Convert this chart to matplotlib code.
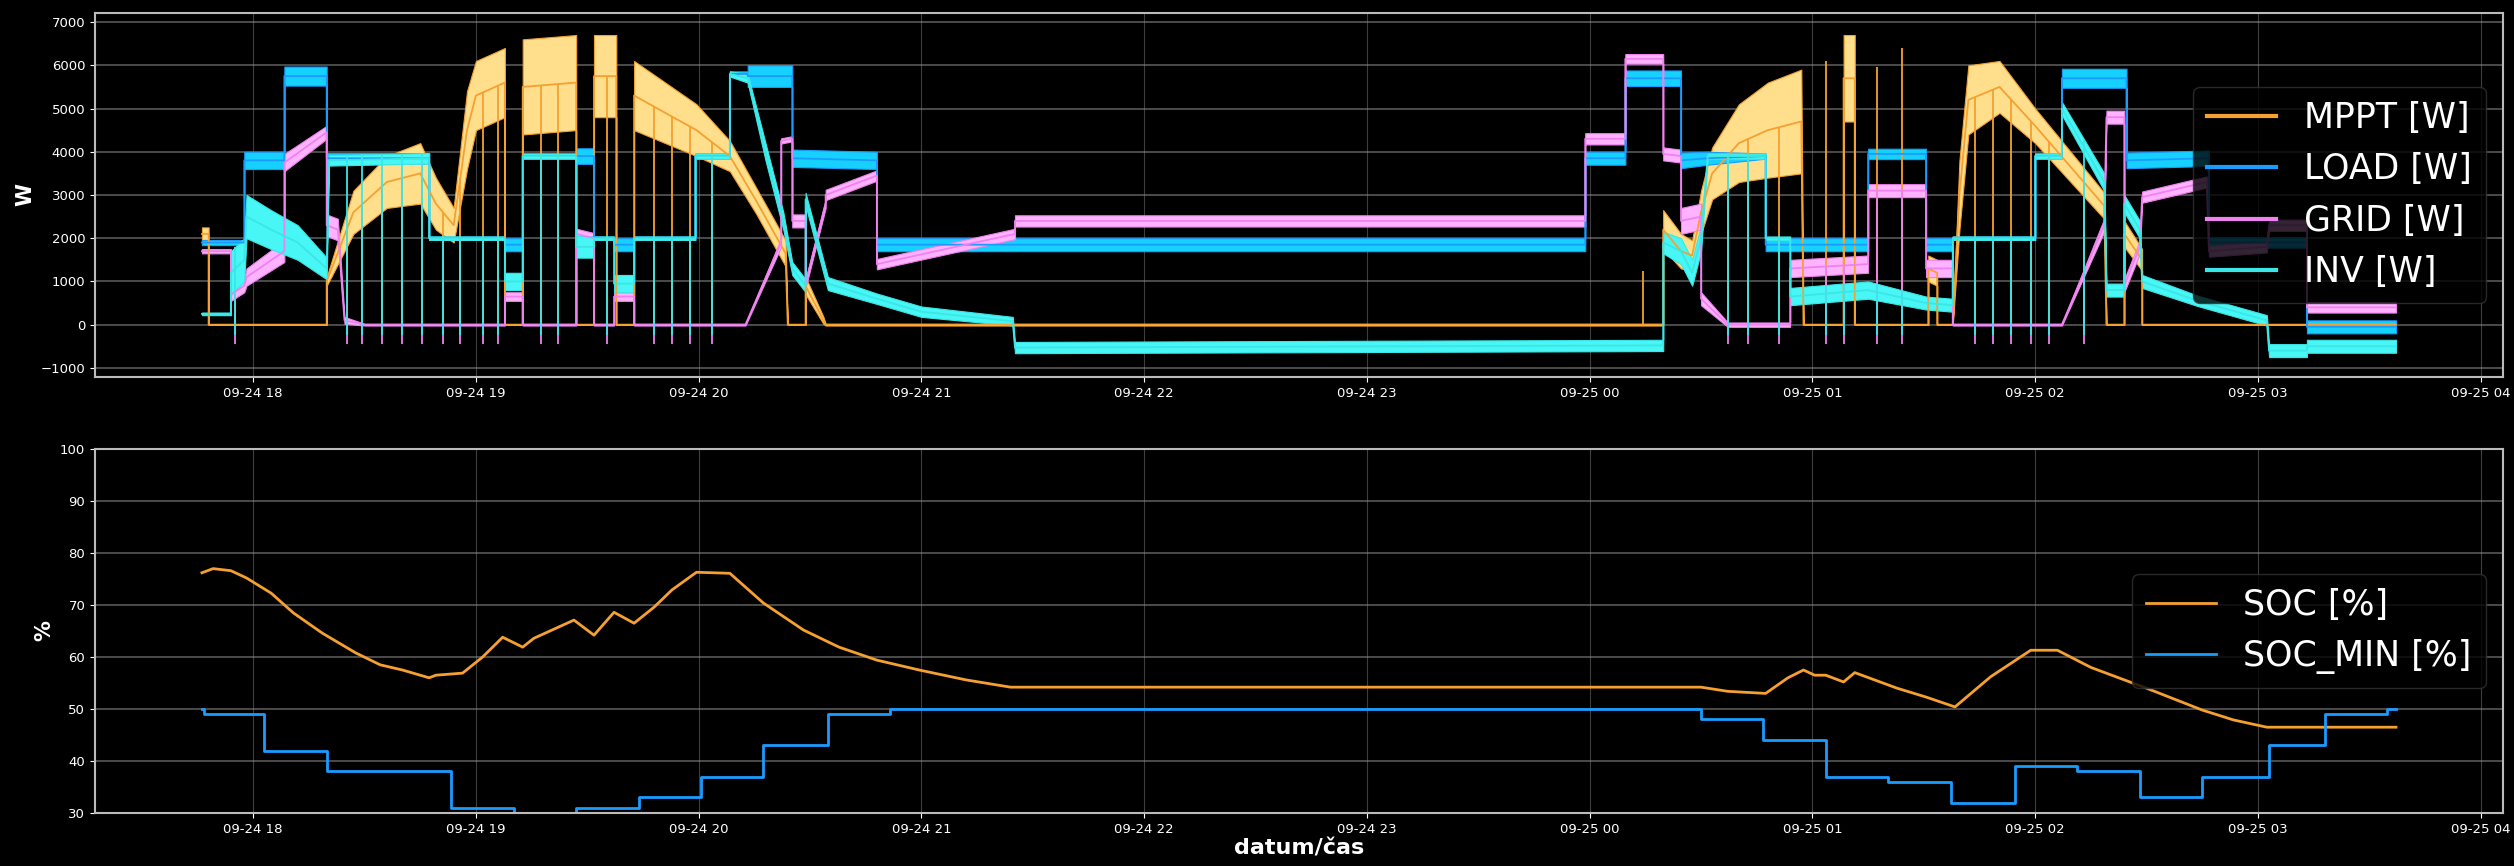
import numpy as np
import pandas as pd
import matplotlib
matplotlib.use("Agg")
import matplotlib.pyplot as plt
import matplotlib.dates as mdates
from matplotlib.lines import Line2D

# time in hours since 2023-09-24 00:00, (time, value, noise half-width)
MPPT = [(17.77, 2100, 150), (17.80, 2100, 150), (17.80, 0, 0), (18.33, 0, 0), (18.33, 1000, 100),
        (18.45, 2600, 500), (18.60, 3300, 600), (18.75, 3500, 700), (18.82, 2800, 600), (18.90, 2300, 400),
        (18.96, 4500, 900), (19.00, 5300, 800), (19.13, 5600, 800), (19.13, 0, 0), (19.21, 0, 0),
        (19.21, 5500, 1100), (19.45, 5600, 1100), (19.45, 0, 0), (19.53, 0, 0), (19.53, 5750, 950),
        (19.63, 5750, 950), (19.63, 0, 0), (19.71, 0, 0), (19.71, 5300, 800), (19.85, 4900, 700),
        (19.99, 4500, 600), (20.14, 3900, 350), (20.26, 2850, 300), (20.39, 1650, 300), (20.40, 0, 0),
        (20.48, 0, 0), (20.48, 900, 200), (20.56, 100, 80), (20.57, 0, 20), (24.33, 0, 20),
        (24.33, 2200, 450), (24.41, 1700, 400), (24.46, 1600, 350), (24.50, 2600, 500), (24.55, 3500, 600),
        (24.67, 4200, 900), (24.80, 4500, 1100), (24.95, 4700, 1200), (24.96, 0, 0), (25.14, 0, 0),
        (25.14, 5700, 1000), (25.19, 5700, 1000), (25.19, 0, 0), (25.52, 0, 0), (25.52, 1300, 300),
        (25.56, 1200, 300), (25.56, 0, 0), (25.63, 0, 0), (25.66, 3000, 800), (25.70, 5200, 800),
        (25.84, 5500, 600), (26.00, 4600, 400), (26.31, 2750, 300), (26.32, 0, 0), (26.40, 0, 0),
        (26.40, 2100, 300), (26.48, 1500, 250), (26.48, 0, 0), (27.62, 0, 0)]

LOAD = [(17.77, 1900, 60), (17.96, 1900, 60), (17.96, 3800, 200), (18.14, 3800, 200), (18.14, 5750, 220),
        (18.33, 5750, 220), (18.33, 3850, 120), (18.79, 3850, 120), (18.79, 2000, 40), (19.13, 2000, 40),
        (19.13, 1850, 150), (19.21, 1850, 150), (19.21, 3900, 60), (19.45, 3900, 60), (19.45, 3900, 180),
        (19.53, 3900, 180), (19.53, 2000, 40), (19.62, 2000, 40), (19.62, 1850, 150), (19.71, 1850, 150),
        (19.71, 2000, 40), (19.985, 2000, 40), (19.985, 3900, 60), (20.14, 3900, 60), (20.14, 5800, 60),
        (20.22, 5800, 60), (20.22, 5750, 250), (20.42, 5750, 250), (20.42, 3850, 200), (20.80, 3800, 200),
        (20.80, 1850, 150), (23.98, 1850, 150), (23.98, 3850, 150), (24.16, 3850, 150), (24.16, 5700, 180),
        (24.41, 5700, 180), (24.41, 3800, 180), (24.53, 3850, 150), (24.79, 3900, 60), (24.79, 1850, 150),
        (25.25, 1850, 150), (25.25, 3950, 120), (25.51, 3950, 120), (25.51, 1850, 150), (25.63, 1850, 150),
        (25.63, 2000, 40), (26.00, 2000, 40), (26.00, 3900, 60), (26.12, 3900, 60), (26.12, 5700, 220),
        (26.41, 5700, 220), (26.41, 3800, 180), (26.78, 3850, 180), (26.78, 1900, 120), (27.22, 1900, 120),
        (27.22, -50, 150), (27.62, -50, 150)]

GRID = [(17.77, 1700, 50), (17.90, 1700, 50), (17.90, 700, 150), (17.96, 900, 150), (17.97, 1100, 200),
        (18.14, 1700, 250), (18.14, 3750, 200), (18.33, 4450, 150), (18.33, 2300, 250), (18.38, 2200, 250),
        (18.41, 100, 80), (18.50, 0, 20), (19.13, 0, 20), (19.13, 650, 100), (19.21, 650, 100),
        (19.21, 0, 20), (19.45, 0, 20), (19.45, 2100, 120), (19.53, 2000, 120), (19.53, 0, 20),
        (19.62, 0, 20), (19.62, 650, 100), (19.71, 650, 100), (19.71, 0, 20), (20.21, 0, 20),
        (20.37, 1900, 100), (20.37, 4250, 60), (20.42, 4300, 60), (20.42, 2400, 150), (20.48, 2400, 150),
        (20.48, 950, 100), (20.57, 2800, 100), (20.57, 3000, 120), (20.80, 3450, 120), (20.80, 1400, 120),
        (21.42, 2100, 120), (21.42, 2400, 130), (23.98, 2400, 130), (23.98, 4300, 130), (24.16, 4300, 130),
        (24.16, 6150, 110), (24.33, 6150, 110), (24.33, 3950, 150), (24.41, 3900, 150), (24.41, 2400, 300),
        (24.50, 2500, 300), (24.50, 600, 150), (24.62, 0, 50), (24.90, 0, 50), (24.90, 1300, 200),
        (25.25, 1400, 200), (25.25, 3100, 150), (25.51, 3100, 150), (25.51, 1300, 200), (25.63, 1300, 200),
        (25.63, 0, 20), (26.12, 0, 20), (26.31, 2300, 150), (26.32, 4800, 150), (26.40, 4800, 150),
        (26.40, 900, 150), (26.47, 1800, 150), (26.48, 2950, 130), (26.77, 3300, 130), (26.78, 1700, 130),
        (27.04, 1800, 130), (27.05, 2300, 130), (27.22, 2300, 130), (27.22, 400, 120), (27.62, 400, 120)]

INV = [(17.77, 250, 30), (17.90, 250, 30), (17.90, 1200, 500), (17.96, 1500, 500), (17.97, 2500, 500),
       (18.08, 2200, 450), (18.20, 1900, 400), (18.33, 1300, 250), (18.34, 3800, 120), (18.79, 3850, 120),
       (18.79, 2000, 40), (19.13, 2000, 40), (19.13, 1000, 200), (19.21, 1000, 200), (19.21, 3900, 60),
       (19.45, 3900, 60), (19.45, 1800, 250), (19.53, 1800, 250), (19.53, 2000, 40), (19.62, 2000, 40),
       (19.62, 950, 200), (19.71, 950, 200), (19.71, 2000, 40), (19.985, 2000, 40), (19.985, 3900, 60),
       (20.14, 3900, 60), (20.14, 5800, 60), (20.22, 5700, 100), (20.30, 4000, 200), (20.38, 2400, 200),
       (20.42, 1300, 150), (20.48, 900, 150), (20.48, 2900, 150), (20.58, 950, 150), (20.80, 600, 120),
       (21.00, 300, 120), (21.41, 80, 100), (21.42, -530, 130), (24.33, -480, 130), (24.33, 1900, 250),
       (24.41, 1700, 300), (24.46, 1200, 300), (24.50, 2000, 300), (24.53, 3900, 60), (24.79, 3900, 60),
       (24.79, 2000, 40), (24.90, 2000, 40), (24.90, 650, 200), (25.25, 800, 200), (25.51, 500, 150),
       (25.63, 450, 150), (25.63, 2000, 40), (26.00, 2000, 40), (26.00, 3900, 60), (26.12, 3900, 60),
       (26.12, 5000, 150), (26.31, 3300, 200), (26.32, 800, 150), (26.40, 800, 150), (26.40, 2800, 200),
       (26.47, 2200, 200), (26.48, 1000, 150), (26.73, 550, 120), (27.04, 100, 120), (27.05, -600, 150),
       (27.22, -600, 150), (27.22, -500, 150), (27.62, -500, 150)]

# moments where the inverter switches briefly (vertical spikes)
SPIKE_T = [17.92, 18.42, 18.49, 18.58, 18.67, 18.76, 18.85, 18.93, 19.03, 19.10, 19.29, 19.37, 19.59,
           19.80, 19.88, 19.96, 20.06, 24.62, 24.71, 24.85, 25.06, 25.14, 25.29, 25.40, 25.73, 25.81,
           25.89, 25.98, 26.06, 26.22]
MPPT_PEAK_T = [24.24, 25.06, 25.29, 25.40]
MPPT_PEAK_V = [1250, 6100, 5950, 6400]

# battery state of charge
SOC_T = [17.77, 17.82, 17.90, 17.97, 18.08, 18.18, 18.31, 18.46, 18.57, 18.67, 18.79, 18.82, 18.94,
         19.03, 19.12, 19.21, 19.26, 19.44, 19.53, 19.62, 19.71, 19.80, 19.88, 19.99, 20.14, 20.29,
         20.47, 20.63, 20.80, 20.99, 21.20, 21.40, 24.50, 24.62, 24.79, 24.89, 24.96, 25.01, 25.06,
         25.14, 25.19, 25.38, 25.51, 25.64, 25.80, 25.98, 26.10, 26.25, 26.50, 26.75, 26.89, 27.04, 27.62]
SOC_V = [76.2, 77.0, 76.6, 75.2, 72.3, 68.5, 64.6, 60.8, 58.5, 57.5, 56.0, 56.5, 56.9,
         60.0, 63.8, 61.9, 63.6, 67.1, 64.2, 68.6, 66.5, 69.6, 72.9, 76.3, 76.1, 70.4,
         65.2, 61.9, 59.4, 57.5, 55.6, 54.2, 54.2, 53.4, 53.0, 56.0, 57.5, 56.5, 56.5,
         55.2, 57.0, 54.0, 52.3, 50.4, 56.2, 61.3, 61.3, 58.0, 54.0, 49.8, 47.9, 46.5, 46.5]
SOCMIN_T = [17.77, 17.78, 18.05, 18.33, 18.89, 19.17, 19.45, 19.73, 20.01, 20.29, 20.58, 20.86,
            24.50, 24.78, 25.06, 25.34, 25.62, 25.91, 26.19, 26.47, 26.75, 27.05, 27.30, 27.58, 27.62]
SOCMIN_V = [50, 49, 42, 38, 31, 30, 31, 33, 37, 43, 49, 50,
            48, 44, 37, 36, 32, 39, 38, 33, 37, 43, 49, 50, 50]

BASE = pd.Timestamp("2023-09-24")
ORANGE, BLUE, VIOLET, CYAN = "#f5a030", "#1a9cff", "#ee82ee", "#3ae6e6"
BANDS = {"MPPT": "#ffdf8c", "LOAD": "#16d0ff", "GRID": "#ffb2ff", "INV": "#48f6f6"}


def dt(hours):
    return BASE + pd.to_timedelta(np.asarray(hours, dtype=float), unit="h")


def unpack(rows):
    t, v, h = (np.array(c, dtype=float) for c in zip(*rows))
    return t, v, h


plt.style.use("dark_background")
plt.rcParams["font.family"] = "DejaVu Sans"

fig = plt.figure(figsize=(25.14, 8.66), dpi=100)
fig.patch.set_facecolor("black")
ax1 = fig.add_axes([0.0378, 0.5647, 0.9578, 0.4203])
ax2 = fig.add_axes([0.0378, 0.0612, 0.9578, 0.4203])

# ---------- top: power flows ----------
series = [("MPPT", MPPT, ORANGE), ("LOAD", LOAD, BLUE), ("GRID", GRID, VIOLET), ("INV", INV, CYAN)]
spike_from = {"MPPT": 0, "GRID": -450, "INV": -250}
for name, rows, col in series:
    t, v, h = unpack(rows)
    ax1.fill_between(dt(t), v - h, v + h, facecolor=BANDS[name], edgecolor=col, lw=0.8)
    ax1.plot(dt(t), v, color=col, lw=1.3)
    if name in spike_from:
        base = np.interp(SPIKE_T, t, v)
        top = base + (np.interp(SPIKE_T, t, h) if name == "INV" else 0)
        ax1.vlines(dt(SPIKE_T), spike_from[name], top, color=col, lw=1.3)
    if name == "MPPT":
        ax1.vlines(dt(MPPT_PEAK_T), 0, MPPT_PEAK_V, color=col, lw=1.3)

ax1.set_ylim(-1210, 7210)
ax1.set_yticks(range(-1000, 7001, 1000))
ax1.set_ylabel("W", fontsize=15, fontweight="bold")

ax1.legend(handles=[Line2D([0], [0], color=ORANGE, lw=3, label="MPPT [W]"),
                    Line2D([0], [0], color=BLUE, lw=3, label="LOAD [W]"),
                    Line2D([0], [0], color=VIOLET, lw=3, label="GRID [W]"),
                    Line2D([0], [0], color=CYAN, lw=3, label="INV [W]")],
           loc="center right", fontsize=25, framealpha=0.8, facecolor="black", edgecolor="#333333")

# ---------- bottom: state of charge ----------
ax2.plot(dt(SOC_T), SOC_V, color=ORANGE, lw=2, label="SOC [%]")
ax2.step(dt(SOCMIN_T), SOCMIN_V, where="post", color=BLUE, lw=2, label="SOC_MIN [%]")
ax2.set_ylim(30, 100)
ax2.set_yticks(range(30, 101, 10))
ax2.set_ylabel("%", fontsize=15, fontweight="bold")
ax2.set_xlabel("datum/čas", fontsize=16, fontweight="bold", labelpad=2)
ax2.legend(loc="center right", fontsize=25, framealpha=0.8, facecolor="black", edgecolor="#333333")

for ax in (ax1, ax2):
    ax.set_facecolor("black")
    ax.set_xlim(dt(17.29)[()] if False else BASE + pd.Timedelta(hours=17.29),
                BASE + pd.Timedelta(hours=28.10))
    ax.xaxis.set_major_locator(mdates.HourLocator(interval=1))
    ax.xaxis.set_major_formatter(mdates.DateFormatter("%m-%d %H"))
    ax.tick_params(labelsize=9.5, colors="white")
    ax.yaxis.grid(True, color="#8a8a8a", lw=1.4, alpha=0.55)
    ax.xaxis.grid(True, color="#8a8a8a", lw=0.8, alpha=0.45)
    ax.set_axisbelow(True)
    for s in ax.spines.values():
        s.set_color("#bbbbbb")
        s.set_linewidth(1.5)

fig.savefig("out.png", dpi=100, facecolor="black")
plt.close(fig)
